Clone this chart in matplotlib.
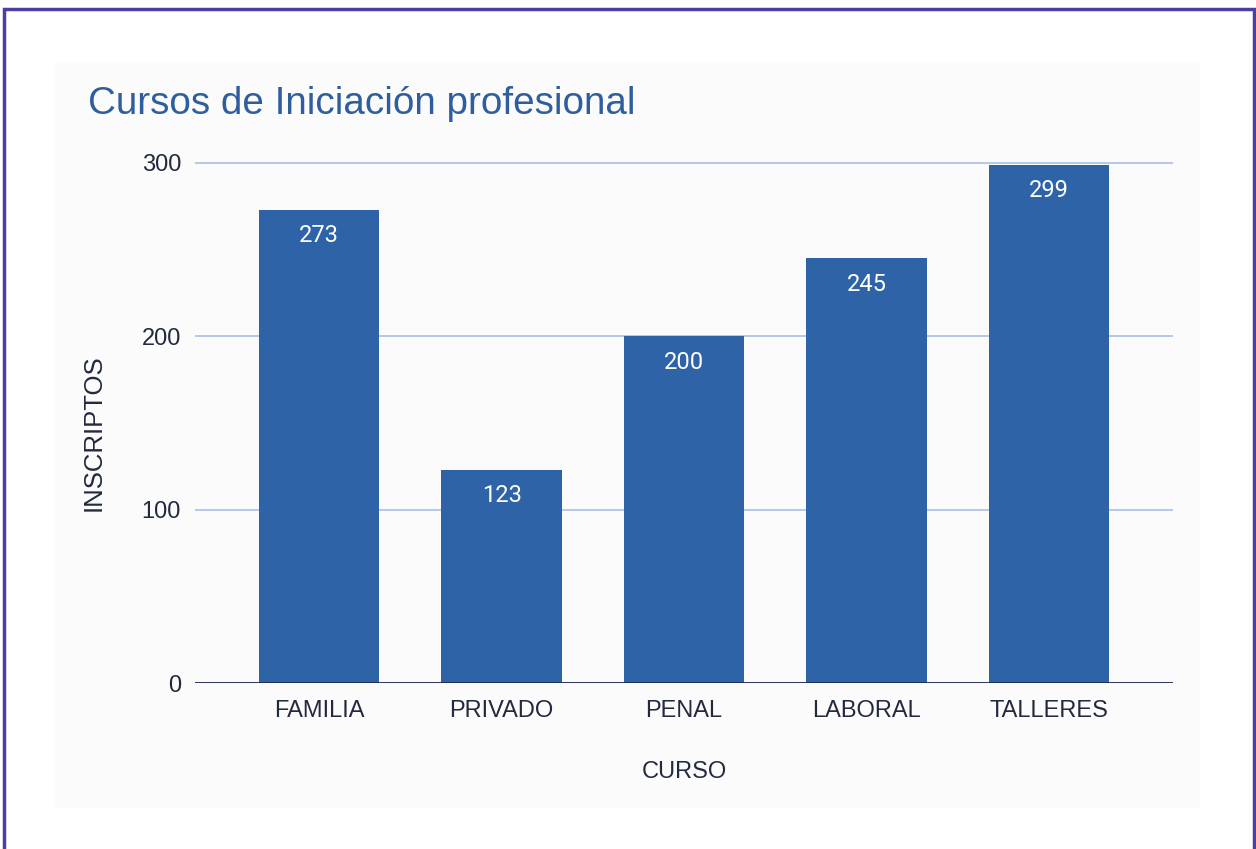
import matplotlib.pyplot as plt
from matplotlib.patches import Rectangle

# Data
cursos = ["FAMILIA", "PRIVADO", "PENAL", "LABORAL", "TALLERES"]
inscriptos = [273, 123, 200, 245, 299]
y_ticks = [0, 100, 200, 300]

bar_color = "#2e63a8"
grid_color = "#a9c1e3"
text_color = "#222a3d"
title_color = "#2f5e9e"

plt.rcParams["font.family"] = ["Liberation Sans", "DejaVu Sans"]

fig = plt.figure(figsize=(12.56, 8.49), dpi=100)
fig.patch.set_facecolor("white")

# outer frame and the light chart panel
fig.add_artist(Rectangle((4 / 1256, -0.01), 1250 / 1256, 1 - 9 / 849 + 0.01,
                         transform=fig.transFigure, fill=False,
                         edgecolor="#4a3fa2", linewidth=2.5))
fig.add_artist(Rectangle((55 / 1256, 1 - 808 / 849), 1145 / 1256, 746 / 849,
                         transform=fig.transFigure, facecolor="#fbfbfc",
                         edgecolor="none", zorder=0))

ax = fig.add_axes([195 / 1256, 1 - 683 / 849, 978 / 1256, (683 - 154.3) / 849])
ax.set_facecolor("none")

x = range(len(cursos))
bars = ax.bar(x, inscriptos, width=0.66, color=bar_color, zorder=3)

for b, v in zip(bars, inscriptos):
    ax.text(b.get_x() + b.get_width() / 2, v - 15, str(v), ha="center", va="center",
            color="white", fontsize=17, family=["Roboto", "DejaVu Sans"], zorder=4)

ax.set_xlim(-0.68, 4.68)
ax.set_ylim(0, 305)
ax.set_yticks(y_ticks)
ax.yaxis.grid(True, color=grid_color, linewidth=1.2, zorder=0)
ax.set_axisbelow(True)
ax.axhline(0, color="#1f2a4a", linewidth=2, zorder=5)

for s in ax.spines.values():
    s.set_visible(False)

ax.set_xticks(list(x))
ax.set_xticklabels(cursos)
ax.tick_params(axis="both", length=0, labelsize=17, labelcolor=text_color)
ax.tick_params(axis="y", pad=10)
ax.tick_params(axis="x", pad=12)

ax.set_xlabel("CURSO", fontsize=17, color=text_color, labelpad=28)
ax.set_ylabel("INSCRIPTOS", fontsize=18.5, color=text_color)
ax.yaxis.set_label_coords(-0.091, 0.474)

fig.text(88 / 1256, 1 - 104 / 849, "Cursos de Iniciación profesional",
         fontsize=27.8, color=title_color, va="center", ha="left")

fig.savefig("out.png", dpi=100, facecolor="white")
